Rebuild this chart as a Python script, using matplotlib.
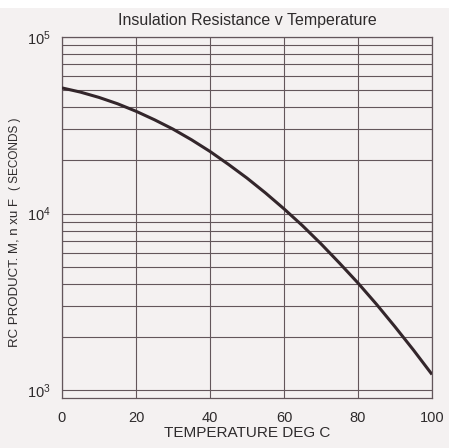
import numpy as np
import matplotlib
matplotlib.use("Agg")
import matplotlib.pyplot as plt
from matplotlib.patches import Rectangle
from matplotlib.ticker import LogLocator, NullFormatter

# values (deg C, RC product in seconds)
temp = [0, 5, 10, 15, 20, 25, 30, 35, 40, 45, 50,
        55, 60, 65, 70, 75, 80, 85, 90, 95, 100]
rc = [51500, 48750, 45500, 41900, 38000, 34000, 30100, 26200, 22500, 19000, 15900,
      13100, 10650, 8550, 6750, 5250, 4050, 3070, 2290, 1690, 1230]

x_ticks = [0, 20, 40, 60, 80, 100]
title = "Insulation Resistance v Temperature"
xlabel = "TEMPERATURE DEG C"
ylabel_main = "RC PRODUCT. M, n xu F"
ylabel_unit = "( SECONDS )"

plt.rcParams['font.family'] = ['Liberation Sans', 'DejaVu Sans']
plt.rcParams['mathtext.fontset'] = 'custom'
plt.rcParams['mathtext.rm'] = 'Liberation Sans'

bg = '#f4f1f1'
ink = '#2e2b2c'
grid_c = '#63565b'

fig = plt.figure(figsize=(4.49, 4.48), dpi=100, facecolor=bg)
fig.add_artist(Rectangle((0, 1 - 8 / 448), 1, 8 / 448, transform=fig.transFigure,
                         facecolor='white', edgecolor='none'))
ax = fig.add_axes([62 / 449, 1 - 398 / 448, 370 / 449, 361 / 448])
ax.set_facecolor(bg)

ax.plot(temp, rc, color='#33262b', lw=2.2, solid_capstyle='butt', zorder=3)

ax.set_yscale('log')
ax.set_xlim(0, 100)
ax.set_ylim(905, 1e5)
ax.set_xticks(x_ticks)
ax.yaxis.set_major_locator(LogLocator(base=10, numticks=5))
ax.yaxis.set_minor_locator(LogLocator(base=10, subs=np.arange(2, 10), numticks=20))
ax.yaxis.set_minor_formatter(NullFormatter())

ax.grid(True, which='both', axis='y', color=grid_c, lw=0.8)
ax.grid(True, which='major', axis='x', color=grid_c, lw=0.8)
ax.tick_params(which='both', length=0, colors=ink, labelsize=10.5)
ax.tick_params(axis='y', pad=8)
ax.tick_params(axis='x', pad=9)
for s in ax.spines.values():
    s.set_color(grid_c)
    s.set_linewidth(0.9)

ax.set_title(title, fontsize=11.5, color=ink, pad=9)
ax.set_xlabel(xlabel, fontsize=11, color=ink, labelpad=1)

fig.text(15 / 449, 1 - 347 / 448, ylabel_main, rotation=90, fontsize=9.5,
         color=ink, ha='center', va='bottom')
fig.text(15 / 449, 1 - 190 / 448, ylabel_unit, rotation=90, fontsize=8.5,
         color=ink, ha='center', va='bottom')

fig.savefig('out.png', dpi=100, facecolor=bg)
